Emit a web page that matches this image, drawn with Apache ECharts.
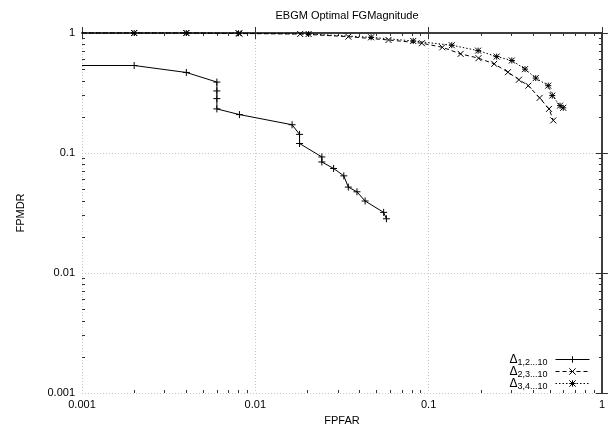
<!DOCTYPE html>
<html><head><meta charset="utf-8">
<script src="https://cdn.jsdelivr.net/npm/echarts@6/dist/echarts.min.js"></script>
<style>html,body{margin:0;padding:0;background:#fff}#c{width:608px;height:431px}</style>
</head><body><div id="c"></div>
<script>
var seriesNames = ['1,2...10', '2,3...10', '3,4...10'];
var s1x = [0.001, 0.002, 0.004, 0.006, 0.006, 0.006, 0.006, 0.0081, 0.0163, 0.018, 0.018, 0.0242, 0.0242, 0.0283, 0.0324, 0.0344, 0.0386, 0.043, 0.055, 0.0571];
var s1y = [0.536, 0.536, 0.469, 0.39, 0.329, 0.284, 0.233, 0.209, 0.172, 0.143, 0.12, 0.0927, 0.0842, 0.0743, 0.0645, 0.052, 0.0475, 0.0398, 0.032, 0.0283];
var s2x = [0.001, 0.002, 0.004, 0.0081, 0.01815, 0.0344, 0.0587, 0.0915, 0.120, 0.153, 0.194, 0.239, 0.287, 0.332, 0.376, 0.437, 0.495, 0.524];
var s2y = [1, 1, 1, 0.99, 0.981, 0.932, 0.875, 0.822, 0.76, 0.67, 0.617, 0.553, 0.472, 0.408, 0.364, 0.288, 0.233, 0.187];
var s3x = [0.001, 0.002, 0.004, 0.008, 0.0203, 0.0466, 0.0815, 0.136, 0.193, 0.247, 0.302, 0.36, 0.415, 0.49, 0.517, 0.573, 0.598];
var s3y = [1, 1, 1, 0.995, 0.981, 0.921, 0.858, 0.791, 0.713, 0.636, 0.59, 0.5, 0.421, 0.364, 0.301, 0.248, 0.238];
var majorTicks = [0.001, 0.01, 0.1, 1];
var minorMult = [2, 3, 4, 5, 6, 7, 8, 9];

var minorLog = [];
[-3, -2, -1].forEach(function (e) { minorMult.forEach(function (m) { minorLog.push(e + Math.log10(m)); }); });

function pairs(xs, ys) {
  return xs.map(function (x, i) {
    var d = { value: [x, ys[i]] };
    if (i === 0) d.symbol = 'none';
    return d;
  });
}
var FONT = 'Liberation Sans';
var AX = '#333';
var PLUS = 'path://M0,5L10,5M5,0L5,10';
var CROSS = 'path://M0,0L10,10M10,0L0,10';
var STAR = 'path://M0,5L10,5M5,0L5,10M0,0L10,10M10,0L0,10';

function decoAxis(pos, vals, len) {
  return {
    type: 'value', position: pos, min: -3, max: 0,
    axisLine: { show: false }, splitLine: { show: false }, axisLabel: { show: false },
    axisTick: { show: true, inside: true, length: len, customValues: vals, lineStyle: { color: AX, width: 1 } }
  };
}
function mainAxis(pos, extra) {
  var a = { type: 'log', logBase: 10, min: 0.001, max: 1, position: pos,
    axisLine: { show: true, lineStyle: { color: AX, width: 1.5 } },
    axisTick: { show: true, inside: true, length: 6, lineStyle: { color: AX, width: 1 } },
    axisLabel: { show: false }, splitLine: { show: false } };
  for (var k in extra) a[k] = extra[k];
  return a;
}
var labelFmt = function (v) { return String(+v.toPrecision(3)); };
var chart = echarts.init(document.getElementById('c'));
chart.setOption({
  animation: false,
  title: { text: 'EBGM Optimal FGMagnitude', left: 342, top: 5, textAlign: 'center',
    textStyle: { fontFamily: FONT, fontSize: 11, fontWeight: 'normal', color: '#000' } },
  grid: { left: 82, right: 5, top: 33, bottom: 36 },
  legend: {
    orient: 'vertical', right: 13, bottom: 35, align: 'right', itemWidth: 34, itemHeight: 8, itemGap: -3,
    data: seriesNames,
    lineStyle: { width: 1 },
    itemStyle: { borderWidth: 1 },
    formatter: function (n) { return '{d|Δ}{s|' + n + '}'; },
    textStyle: { fontFamily: FONT, color: '#000', padding: [0, 3, 0, 0], rich: {
      d: { fontSize: 12, lineHeight: 12, fontFamily: FONT, color: '#000' },
      s: { fontSize: 9, lineHeight: 9, fontFamily: FONT, color: '#000', padding: [6, 0, 0, 0] } } }
  },
  xAxis: [
    mainAxis('bottom', { name: 'FPFAR', nameLocation: 'middle', nameGap: 22,
      nameTextStyle: { fontFamily: FONT, fontSize: 11, color: '#000' },
      axisLabel: { show: true, fontFamily: FONT, fontSize: 11, color: '#000', margin: 6, formatter: labelFmt },
      splitLine: { show: true, lineStyle: { color: '#c8c8c8', type: [1, 2], width: 1 } } }),
    mainAxis('top', {}),
    decoAxis('bottom', minorLog, 3),
    decoAxis('top', minorLog, 3)
  ],
  yAxis: [
    mainAxis('left', { name: 'FPMDR', nameLocation: 'middle', nameGap: 56,
      nameTextStyle: { fontFamily: FONT, fontSize: 11, color: '#000' },
      axisLabel: { show: true, fontFamily: FONT, fontSize: 11, color: '#000', margin: 7, formatter: labelFmt },
      splitLine: { show: true, lineStyle: { color: '#c8c8c8', type: [1, 2], width: 1 } } }),
    mainAxis('right', {}),
    decoAxis('left', minorLog, 3),
    decoAxis('right', minorLog, 3)
  ],
  series: [
    { name: seriesNames[0], type: 'line', data: pairs(s1x, s1y), symbol: PLUS, symbolSize: 7,
      itemStyle: { color: 'rgba(0,0,0,0)', borderColor: '#000', borderWidth: 1 },
      lineStyle: { color: '#000', width: 1, type: 'solid' }, clip: false },
    { name: seriesNames[1], type: 'line', data: pairs(s2x, s2y), symbol: CROSS, symbolSize: 6,
      itemStyle: { color: 'rgba(0,0,0,0)', borderColor: '#000', borderWidth: 1 },
      lineStyle: { color: '#000', width: 1, type: [4, 3] }, clip: false },
    { name: seriesNames[2], type: 'line', data: pairs(s3x, s3y), symbol: STAR, symbolSize: 6,
      itemStyle: { color: 'rgba(0,0,0,0)', borderColor: '#000', borderWidth: 1 },
      lineStyle: { color: '#000', width: 1, type: [1.5, 2] }, clip: false }
  ]
});
</script></body></html>
